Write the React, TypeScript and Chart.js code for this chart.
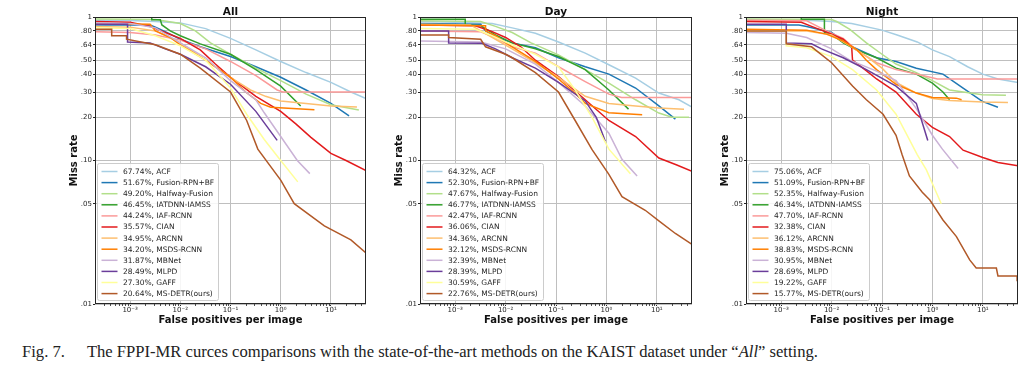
import React, { useEffect, useRef } from "react";
import { Chart, registerables } from "chart.js";

Chart.register(...registerables);

type Pt = [number, number];

const METHODS = [
  "ACF",
  "Fusion-RPN+BF",
  "Halfway-Fusion",
  "IATDNN-IAMSS",
  "IAF-RCNN",
  "CIAN",
  "ARCNN",
  "MSDS-RCNN",
  "MBNet",
  "MLPD",
  "GAFF",
  "MS-DETR(ours)",
];
const COLORS = [
  "#a6cee3", "#1f78b4", "#b2df8a", "#33a02c", "#fb9a99", "#e31a1c",
  "#fdbf6f", "#ff7f00", "#cab2d6", "#6a3d9a", "#ffff99", "#b15928",
];

const X_TICKS = [0.001, 0.01, 0.1, 1, 10];
const X_TICK_LABELS = ["10⁻³", "10⁻²", "10⁻¹", "10⁰", "10¹"];
const Y_TICKS = [0.01, 0.05, 0.1, 0.2, 0.3, 0.4, 0.5, 0.64, 0.8, 1];
const Y_TICK_LABELS = [".01", ".05", ".10", ".20", ".30", ".40", ".50", ".64", ".80", "1"];
const X_MIN = 2e-4;
const X_MAX = 50;
const Y_MIN = 0.01;
const Y_MAX = 1;

const ALL_MR = ["67.74%", "51.67%", "49.20%", "46.45%", "44.24%", "35.57%", "34.95%", "34.20%", "31.87%", "28.49%", "27.30%", "20.64%"];
const DAY_MR = ["64.32%", "52.30%", "47.67%", "46.77%", "42.47%", "36.06%", "34.36%", "32.12%", "32.39%", "28.39%", "30.59%", "22.76%"];
const NIGHT_MR = ["75.06%", "51.09%", "52.35%", "46.34%", "47.70%", "32.38%", "36.12%", "38.83%", "30.95%", "28.69%", "19.22%", "15.77%"];

// ---------- All ----------
const ALL_ACF: Pt[] = [[0.0002, 0.95], [0.001, 0.945], [0.0032, 0.93], [0.01, 0.91], [0.032, 0.83], [0.1, 0.71], [0.32, 0.59], [1, 0.49], [3.2, 0.41], [10, 0.35], [25, 0.3], [50, 0.27]];
const ALL_FUSION: Pt[] = [[0.0002, 0.88], [0.0025, 0.88], [0.0032, 0.85], [0.005, 0.79], [0.01, 0.7], [0.025, 0.62], [0.1, 0.53], [0.32, 0.45], [1, 0.38], [3.2, 0.31], [10, 0.25], [23, 0.205]];
const ALL_HALFWAY: Pt[] = [[0.0002, 0.97], [0.0032, 0.96], [0.01, 0.9], [0.02, 0.8], [0.04, 0.66], [0.1, 0.55], [0.32, 0.44], [1, 0.36], [3.2, 0.29], [10, 0.245], [36, 0.225]];
const ALL_IATDNN: Pt[] = [[0.0002, 0.995], [0.0027, 0.995], [0.0027, 0.955], [0.004, 0.955], [0.0043, 0.88], [0.0063, 0.8], [0.01, 0.74], [0.025, 0.65], [0.1, 0.55], [0.32, 0.43], [1, 0.33], [2.5, 0.24]];
const ALL_IAF: Pt[] = [[0.0002, 0.79], [0.001, 0.78], [0.0032, 0.75], [0.01, 0.69], [0.032, 0.6], [0.1, 0.49], [0.32, 0.39], [0.85, 0.31], [1.1, 0.3], [50, 0.3]];
const ALL_CIAN: Pt[] = [[0.0002, 0.93], [0.001, 0.92], [0.0025, 0.86], [0.005, 0.78], [0.01, 0.71], [0.025, 0.59], [0.05, 0.47], [0.1, 0.38], [0.32, 0.28], [1, 0.22], [2, 0.18], [4, 0.145], [10, 0.112], [20, 0.1], [50, 0.085]];
const ALL_ARCNN: Pt[] = [[0.0002, 0.86], [0.001, 0.85], [0.0032, 0.8], [0.01, 0.66], [0.032, 0.5], [0.1, 0.38], [0.25, 0.31], [0.5, 0.28], [1, 0.26], [3.2, 0.25], [10, 0.24], [33, 0.236]];
const ALL_MSDS: Pt[] = [[0.0002, 0.9], [0.0025, 0.89], [0.0032, 0.8], [0.0063, 0.72], [0.01, 0.64], [0.032, 0.5], [0.1, 0.38], [0.2, 0.3], [0.4, 0.25], [0.63, 0.235], [4.7, 0.226]];
const ALL_MBNET: Pt[] = [[0.0002, 0.91], [0.001, 0.9], [0.0032, 0.84], [0.01, 0.66], [0.032, 0.52], [0.1, 0.36], [0.32, 0.265], [0.47, 0.215], [1, 0.147], [2.14, 0.1], [3.8, 0.081]];
const ALL_MLPD: Pt[] = [[0.0002, 0.89], [0.00089, 0.89], [0.00089, 0.67], [0.0025, 0.66], [0.005, 0.6], [0.01, 0.55], [0.032, 0.45], [0.1, 0.34], [0.32, 0.22], [0.85, 0.138]];
const ALL_GAFF: Pt[] = [[0.0002, 0.84], [0.001, 0.83], [0.0032, 0.74], [0.01, 0.63], [0.032, 0.5], [0.1, 0.32], [0.21, 0.21], [0.47, 0.14], [1, 0.1], [2.19, 0.071]];
const ALL_MSDETR: Pt[] = [[0.0002, 0.82], [0.00043, 0.82], [0.00043, 0.74], [0.00085, 0.74], [0.00085, 0.7], [0.0032, 0.64], [0.01, 0.55], [0.025, 0.44], [0.1, 0.3], [0.21, 0.19], [0.35, 0.12], [1, 0.073], [1.86, 0.05], [7.4, 0.035], [25, 0.028], [50, 0.0227]];

// ---------- Day ----------
const DAY_ACF: Pt[] = [[0.0002, 0.93], [0.001, 0.92], [0.0054, 0.9], [0.0135, 0.84], [0.039, 0.77], [0.112, 0.67], [0.38, 0.56], [1.12, 0.465], [3.8, 0.375], [11, 0.295], [27.5, 0.265], [50, 0.236]];
const DAY_FUSION: Pt[] = [[0.0002, 0.9], [0.0032, 0.89], [0.004, 0.8], [0.0063, 0.73], [0.0135, 0.66], [0.039, 0.61], [0.112, 0.52], [0.38, 0.45], [1.12, 0.4], [3.8, 0.32], [11, 0.24], [23.4, 0.194]];
const DAY_HALFWAY: Pt[] = [[0.0002, 0.94], [0.0032, 0.93], [0.0063, 0.86], [0.0135, 0.78], [0.032, 0.66], [0.112, 0.545], [0.38, 0.43], [1.12, 0.346], [3.8, 0.265], [11, 0.214], [20, 0.2], [43.6, 0.2]];
const DAY_IATDNN: Pt[] = [[0.0002, 0.965], [0.00158, 0.965], [0.00158, 0.88], [0.0032, 0.87], [0.0063, 0.75], [0.0135, 0.66], [0.039, 0.6], [0.112, 0.53], [0.38, 0.43], [1.12, 0.31], [2.75, 0.228]];
const DAY_IAF: Pt[] = [[0.0002, 0.8], [0.0032, 0.79], [0.0063, 0.72], [0.0135, 0.62], [0.039, 0.56], [0.112, 0.45], [0.38, 0.355], [1.12, 0.29], [2, 0.275], [50, 0.275]];
const DAY_CIAN: Pt[] = [[0.0002, 0.88], [0.0025, 0.87], [0.005, 0.8], [0.01, 0.72], [0.02, 0.62], [0.039, 0.5], [0.112, 0.385], [0.38, 0.265], [1.12, 0.19], [3.8, 0.147], [11, 0.104], [25, 0.093], [50, 0.084]];
const DAY_ARCNN: Pt[] = [[0.0002, 0.89], [0.002, 0.88], [0.0032, 0.8], [0.0063, 0.7], [0.0135, 0.6], [0.039, 0.48], [0.112, 0.38], [0.38, 0.28], [1.12, 0.25], [3.8, 0.24], [11, 0.232], [34.7, 0.228]];
const DAY_MSDS: Pt[] = [[0.0002, 0.88], [0.004, 0.87], [0.004, 0.8], [0.0063, 0.74], [0.0135, 0.62], [0.039, 0.49], [0.112, 0.37], [0.25, 0.29], [0.38, 0.25], [1.12, 0.215], [5.13, 0.208]];
const DAY_MBNET: Pt[] = [[0.0002, 0.68], [0.0032, 0.67], [0.01, 0.6], [0.039, 0.47], [0.112, 0.35], [0.38, 0.24], [1.12, 0.155], [2.04, 0.102], [4.07, 0.078]];
const DAY_MLPD: Pt[] = [[0.0002, 0.8], [0.00074, 0.8], [0.00074, 0.66], [0.0034, 0.655], [0.0063, 0.6], [0.0135, 0.52], [0.039, 0.44], [0.112, 0.35], [0.38, 0.26], [0.63, 0.2], [0.95, 0.136]];
const DAY_GAFF: Pt[] = [[0.0002, 0.83], [0.0025, 0.82], [0.005, 0.75], [0.01, 0.67], [0.039, 0.55], [0.112, 0.45], [0.24, 0.31], [0.52, 0.2], [1.12, 0.12], [3.0, 0.081]];
const DAY_MSDETR: Pt[] = [[0.0002, 0.75], [0.00074, 0.75], [0.00074, 0.72], [0.0032, 0.7], [0.004, 0.62], [0.01, 0.55], [0.0135, 0.52], [0.039, 0.41], [0.112, 0.3], [0.24, 0.19], [0.52, 0.119], [1.12, 0.08], [2.04, 0.056], [5.9, 0.045], [11, 0.038], [23.4, 0.031], [50, 0.026]];

// ---------- Night ----------
const NIGHT_ACF: Pt[] = [[0.0002, 0.96], [0.0032, 0.95], [0.01, 0.93], [0.025, 0.9], [0.1, 0.81], [0.2, 0.75], [0.5, 0.67], [1, 0.59], [2.19, 0.53], [5, 0.45], [10, 0.4], [20, 0.37], [50, 0.35]];
const NIGHT_FUSION: Pt[] = [[0.0002, 0.88], [0.00224, 0.88], [0.0032, 0.86], [0.01, 0.78], [0.023, 0.63], [0.078, 0.52], [0.19, 0.49], [0.48, 0.44], [1.62, 0.4], [4.07, 0.32], [9.8, 0.258], [20, 0.235]];
const NIGHT_HALFWAY: Pt[] = [[0.0002, 0.97], [0.01, 0.96], [0.0126, 0.93], [0.023, 0.82], [0.049, 0.66], [0.1, 0.55], [0.19, 0.47], [0.48, 0.41], [1, 0.36], [2.19, 0.31], [9.8, 0.287], [28.8, 0.285]];
const NIGHT_IATDNN: Pt[] = [[0.0002, 0.995], [0.0025, 0.995], [0.0025, 0.965], [0.0072, 0.965], [0.0072, 0.78], [0.01, 0.76], [0.017, 0.66], [0.031, 0.59], [0.078, 0.52], [0.19, 0.44], [0.48, 0.4], [1, 0.346], [1.62, 0.3], [2.19, 0.265]];
const NIGHT_IAF: Pt[] = [[0.0002, 0.95], [0.0032, 0.94], [0.0079, 0.8], [0.017, 0.71], [0.031, 0.59], [0.078, 0.48], [0.19, 0.43], [0.48, 0.4], [1.26, 0.37], [50, 0.37]];
const NIGHT_CIAN: Pt[] = [[0.0002, 0.93], [0.0025, 0.92], [0.004, 0.86], [0.01, 0.76], [0.017, 0.7], [0.025, 0.62], [0.026, 0.5], [0.05, 0.42], [0.078, 0.37], [0.19, 0.3], [0.48, 0.21], [1, 0.17], [2.19, 0.147], [4.07, 0.118], [10, 0.105], [20, 0.097], [50, 0.092]];
const NIGHT_ARCNN: Pt[] = [[0.0002, 0.8], [0.0032, 0.8], [0.01, 0.75], [0.023, 0.63], [0.05, 0.53], [0.1, 0.44], [0.19, 0.35], [0.48, 0.295], [1, 0.27], [2.19, 0.262], [10, 0.256], [31.6, 0.254]];
const NIGHT_MSDS: Pt[] = [[0.0002, 0.82], [0.0032, 0.81], [0.0079, 0.76], [0.017, 0.68], [0.032, 0.59], [0.049, 0.5], [0.078, 0.43], [0.19, 0.34], [0.48, 0.295], [1, 0.275], [3.0, 0.272], [3.8, 0.265]];
const NIGHT_MBNET: Pt[] = [[0.0002, 0.78], [0.00126, 0.77], [0.0032, 0.72], [0.01, 0.6], [0.023, 0.5], [0.078, 0.42], [0.19, 0.36], [0.48, 0.23], [1, 0.15], [1.58, 0.12], [3.24, 0.088]];
const NIGHT_MLPD: Pt[] = [[0.0002, 0.89], [0.00126, 0.89], [0.00126, 0.66], [0.004, 0.65], [0.0063, 0.6], [0.017, 0.52], [0.049, 0.43], [0.19, 0.33], [0.48, 0.25], [0.81, 0.138]];
const NIGHT_GAFF: Pt[] = [[0.0002, 0.8], [0.00126, 0.8], [0.00126, 0.63], [0.0032, 0.61], [0.01, 0.53], [0.026, 0.43], [0.078, 0.31], [0.19, 0.21], [0.35, 0.14], [0.5, 0.11], [0.76, 0.086], [1.5, 0.05]];
const NIGHT_MSDETR: Pt[] = [[0.0002, 0.8], [0.00126, 0.8], [0.00126, 0.65], [0.004, 0.62], [0.01, 0.48], [0.026, 0.33], [0.049, 0.265], [0.105, 0.21], [0.19, 0.15], [0.25, 0.11], [0.35, 0.078], [0.63, 0.06], [0.89, 0.053], [1.62, 0.0385], [3.0, 0.0295], [5.5, 0.0203], [7.4, 0.0178], [18.6, 0.0178], [20, 0.0157], [48, 0.0157], [48, 0.0146], [50, 0.0146]];

const ALL_SERIES = [ALL_ACF, ALL_FUSION, ALL_HALFWAY, ALL_IATDNN, ALL_IAF, ALL_CIAN, ALL_ARCNN, ALL_MSDS, ALL_MBNET, ALL_MLPD, ALL_GAFF, ALL_MSDETR];
const DAY_SERIES = [DAY_ACF, DAY_FUSION, DAY_HALFWAY, DAY_IATDNN, DAY_IAF, DAY_CIAN, DAY_ARCNN, DAY_MSDS, DAY_MBNET, DAY_MLPD, DAY_GAFF, DAY_MSDETR];
const NIGHT_SERIES = [NIGHT_ACF, NIGHT_FUSION, NIGHT_HALFWAY, NIGHT_IATDNN, NIGHT_IAF, NIGHT_CIAN, NIGHT_ARCNN, NIGHT_MSDS, NIGHT_MBNET, NIGHT_MLPD, NIGHT_GAFF, NIGHT_MSDETR];

const FONT = "'DejaVu Sans', sans-serif";
const INK = "#262626";
const GRID = "#bfbfbf";

const decor = {
  id: "decor",
  afterDraw(chart: any, _args: any, opts: any) {
    const { ctx, chartArea: a, scales } = chart;
    const xs = scales.x;
    ctx.save();

    // minor ticks on the x axis
    ctx.strokeStyle = INK;
    ctx.lineWidth = 0.8;
    ctx.beginPath();
    for (let e = -4; e <= 1; e++) {
      for (let k = 2; k <= 9; k++) {
        const v = k * Math.pow(10, e);
        if (v <= X_MIN || v >= X_MAX) continue;
        const px = Math.round(xs.getPixelForValue(v)) + 0.5;
        ctx.moveTo(px, a.bottom);
        ctx.lineTo(px, a.bottom + 2);
      }
    }
    ctx.stroke();

    // frame
    ctx.lineWidth = 1;
    ctx.strokeStyle = INK;
    ctx.strokeRect(a.left + 0.5, a.top + 0.5, a.right - a.left - 1, a.bottom - a.top - 1);

    // title
    ctx.fillStyle = "#111";
    ctx.font = `bold 10.5px ${FONT}`;
    ctx.textAlign = "center";
    ctx.textBaseline = "alphabetic";
    ctx.fillText(opts.title, (a.left + a.right) / 2, 15);

    // x title
    ctx.font = `bold 10px ${FONT}`;
    ctx.fillText("False positives per image", (a.left + a.right) / 2, 323);

    // y title
    ctx.save();
    ctx.translate(a.left - 21, (a.top + a.bottom) / 2);
    ctx.rotate(-Math.PI / 2);
    ctx.textBaseline = "middle";
    ctx.fillText("Miss rate", 0, 0);
    ctx.restore();

    // legend
    const lx = a.left + 2.5;
    const lh = 137;
    const lw = 121;
    const ly = a.bottom - 4 - lh + 0.5;
    ctx.fillStyle = "rgba(255,255,255,0.85)";
    ctx.strokeStyle = "#cccccc";
    ctx.lineWidth = 1;
    ctx.beginPath();
    if (ctx.roundRect) ctx.roundRect(lx, ly, lw, lh, 2);
    else ctx.rect(lx, ly, lw, lh);
    ctx.fill();
    ctx.stroke();
    ctx.font = `7.5px ${FONT}`;
    ctx.textAlign = "left";
    ctx.textBaseline = "middle";
    for (let i = 0; i < METHODS.length; i++) {
      const y = ly + 8 + i * 11.1;
      ctx.strokeStyle = COLORS[i];
      ctx.lineWidth = 1.5;
      ctx.beginPath();
      ctx.moveTo(lx + 4, y);
      ctx.lineTo(lx + 20, y);
      ctx.stroke();
      ctx.fillStyle = INK;
      ctx.fillText(`${opts.mrs[i]}, ${METHODS[i]}`, lx + 25.5, y + 0.5);
    }
    ctx.restore();
  },
};

function Panel(props: { title: string; left: number; width: number; series: Pt[][]; mrs: string[] }) {
  const ref = useRef<HTMLCanvasElement>(null);
  const { title, left, width, series, mrs } = props;
  useEffect(() => {
    const chart = new Chart(ref.current as HTMLCanvasElement, {
      type: "line",
      data: {
        datasets: series.map((pts, i) => ({
          label: METHODS[i],
          data: pts.map(([x, y]) => ({ x, y })),
          borderColor: COLORS[i],
          backgroundColor: COLORS[i],
          borderWidth: 1.5,
          pointRadius: 0,
          fill: false,
          tension: 0,
          order: METHODS.length - i,
        })),
      },
      options: {
        responsive: false,
        animation: false,
        events: [],
        layout: { padding: { left: 0, right: 6, top: 17, bottom: 0 } },
        plugins: {
          legend: { display: false },
          tooltip: { enabled: false },
          title: { display: false },
          decor: { title, mrs },
        } as any,
        scales: {
          x: {
            type: "logarithmic",
            min: X_MIN,
            max: X_MAX,
            afterBuildTicks: (s: any) => {
              s.ticks = X_TICKS.map((v) => ({ value: v }));
            },
            afterFit: (s: any) => {
              s.height = 26;
            },
            ticks: {
              autoSkip: false,
              maxRotation: 0,
              padding: 0,
              color: INK,
              font: { family: FONT, size: 7 },
              callback: (_v: any, i: number) => X_TICK_LABELS[i],
            },
            grid: { color: GRID, lineWidth: 1, tickLength: 2, tickColor: INK, drawTicks: true },
            border: { display: false },
          },
          y: {
            type: "logarithmic",
            min: Y_MIN,
            max: Y_MAX,
            afterBuildTicks: (s: any) => {
              s.ticks = Y_TICKS.map((v) => ({ value: v }));
            },
            afterFit: (s: any) => {
              s.width = 40;
            },
            ticks: {
              autoSkip: false,
              padding: 1,
              color: INK,
              font: { family: FONT, size: 7 },
              callback: (_v: any, i: number) => Y_TICK_LABELS[i],
            },
            grid: { color: GRID, lineWidth: 1, tickLength: 2, tickColor: INK, drawTicks: true },
            border: { display: false },
          },
        } as any,
      },
      plugins: [decor as any],
    });
    return () => chart.destroy();
  }, []);
  return (
    <canvas
      ref={ref}
      width={width + 46}
      height={330}
      style={{ position: "absolute", left: left - 40, top: 0, width: width + 46, height: 330 }}
    />
  );
}

export default function App() {
  return (
    <div style={{ position: "fixed", left: 0, top: 0, width: 1024, height: 378, background: "#fff", overflow: "hidden" }}>
      <Panel title="All" left={95} width={271} series={ALL_SERIES} mrs={ALL_MR} />
      <Panel title="Day" left={420} width={272} series={DAY_SERIES} mrs={DAY_MR} />
      <Panel title="Night" left={746} width={272} series={NIGHT_SERIES} mrs={NIGHT_MR} />
      <div
        style={{
          position: "absolute",
          left: 22,
          top: 342,
          fontFamily: "'Liberation Serif', 'Times New Roman', serif",
          fontSize: 16.6,
          whiteSpace: "nowrap",
          color: "#222",
        }}
      >
        Fig. 7.<span style={{ display: "inline-block", width: 22 }} />The FPPI-MR curces comparisons with the state-of-the-art methods on the KAIST dataset under “<i>All</i>” setting.
      </div>
    </div>
  );
}
